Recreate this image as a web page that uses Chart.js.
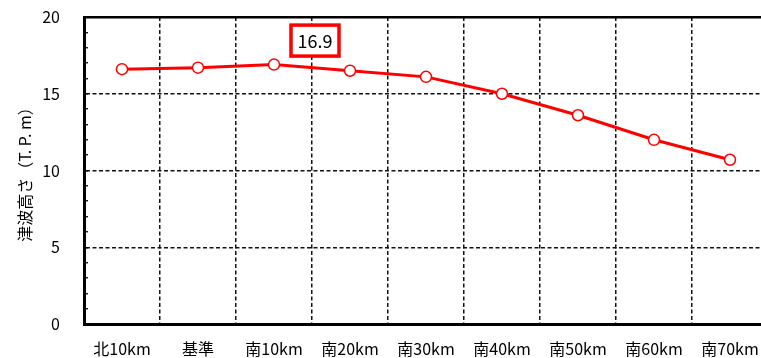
<!DOCTYPE html>
<html>
<head>
<meta charset="utf-8">
<script src="https://cdn.jsdelivr.net/npm/chart.js@4"></script>
<style>
    html, body { margin: 0; padding: 0; background: #fff; overflow: hidden; }
    #wrap { width: 780px; height: 358px; }
</style>
</head>
<body>
<div id="wrap"><canvas id="waveChart"></canvas></div>
<script>
const categories = ['北10km', '基準', '南10km', '南20km', '南30km', '南40km', '南50km', '南60km', '南70km'];
const waveHeights = [16.6, 16.7, 16.9, 16.5, 16.1, 15.0, 13.6, 12.0, 10.7];
const yTickValues = [0, 5, 10, 15, 20];
const peakIndex = 2; // the boxed value label

const FONT = '"Noto Sans CJK JP", "DejaVu Sans", sans-serif';
const GRID_DASH = [4, 2.5];

// boxed label above the peak point
const peakLabel = {
    id: 'peakLabel',
    afterDatasetsDraw(chart) {
        const el = chart.getDatasetMeta(0).data[peakIndex];
        if (!el) return;
        const ctx = chart.ctx;
        const cx = el.x + 41, cy = el.y - 24;
        const w = 48, h = 31;
        ctx.save();
        ctx.fillStyle = '#fff';
        ctx.fillRect(cx - w / 2, cy - h / 2, w, h);
        ctx.strokeStyle = '#ff0000';
        ctx.lineWidth = 3.5;
        ctx.strokeRect(cx - w / 2, cy - h / 2, w, h);
        ctx.fillStyle = '#000';
        ctx.font = '18px ' + FONT;
        ctx.textAlign = 'center';
        ctx.textBaseline = 'middle';
        ctx.fillText(waveHeights[peakIndex].toFixed(1), cx, cy + 1);
        ctx.restore();
    }
};

new Chart(document.getElementById('waveChart'), {
    type: 'line',
    data: {
        labels: categories,
        datasets: [{
            data: waveHeights,
            borderColor: '#ff0000',
            borderWidth: 3,
            pointRadius: 5.5,
            pointBorderWidth: 1.5,
            pointBackgroundColor: '#ffffff',
            pointBorderColor: '#ff0000',
            tension: 0
        }]
    },
    options: {
        responsive: true,
        maintainAspectRatio: false,
        animation: false,
        layout: {
            padding: { left: 0, right: 12, top: 17, bottom: 0 }
        },
        plugins: {
            legend: { display: false },
            tooltip: { enabled: false }
        },
        scales: {
            x: {
                offset: true,
                afterFit(scale) {
                    scale.height = 34;
                    scale.paddingLeft = 0;
                    scale.paddingRight = 0;
                },
                grid: {
                    offset: true,
                    color: '#111',
                    lineWidth: 1.5,
                    drawTicks: false
                },
                border: { color: '#000', width: 3, dash: GRID_DASH },
                ticks: {
                    color: '#000',
                    padding: 15,
                    maxRotation: 0,
                    autoSkip: false,
                    font: { family: FONT, size: 16 }
                }
            },
            y: {
                min: 0,
                max: 20,
                afterFit(scale) {
                    scale.width = 84;
                    // tick padding would otherwise push the chart area inwards
                    scale.paddingTop = 0;
                    scale.paddingBottom = 0;
                },
                afterBuildTicks(scale) {
                    const t = [];
                    for (let v = 0; v <= 20; v++) t.push({ value: v });
                    scale.ticks = t;
                },
                grid: {
                    drawTicks: true,
                    tickLength: -4,
                    tickColor: '#000',
                    tickWidth: 1.3,
                    tickBorderDash: [],
                    color: ctx => {
                        const v = ctx.tick ? ctx.tick.value : 0;
                        if (v === 20) return '#000';
                        return (v % 5 === 0 && v !== 0) ? '#111' : 'rgba(0,0,0,0)';
                    },
                    lineWidth: ctx => (ctx.tick && ctx.tick.value === 20) ? 2.5 : 1.5
                },
                border: {
                    color: '#000',
                    width: 3,
                    dash: ctx => (ctx.tick && ctx.tick.value === 20) ? [] : GRID_DASH
                },
                ticks: {
                    color: '#000',
                    padding: 28,
                    autoSkip: false,
                    font: { family: FONT, size: 16 },
                    callback: v => yTickValues.includes(v) ? String(v) : ''
                },
                title: {
                    display: true,
                    text: '津波高さ（T. P. m）',
                    color: '#000',
                    font: { family: FONT, size: 16 },
                    padding: { top: 15, bottom: 0 }
                }
            }
        }
    },
    plugins: [peakLabel]
});
</script>
</body>
</html>
